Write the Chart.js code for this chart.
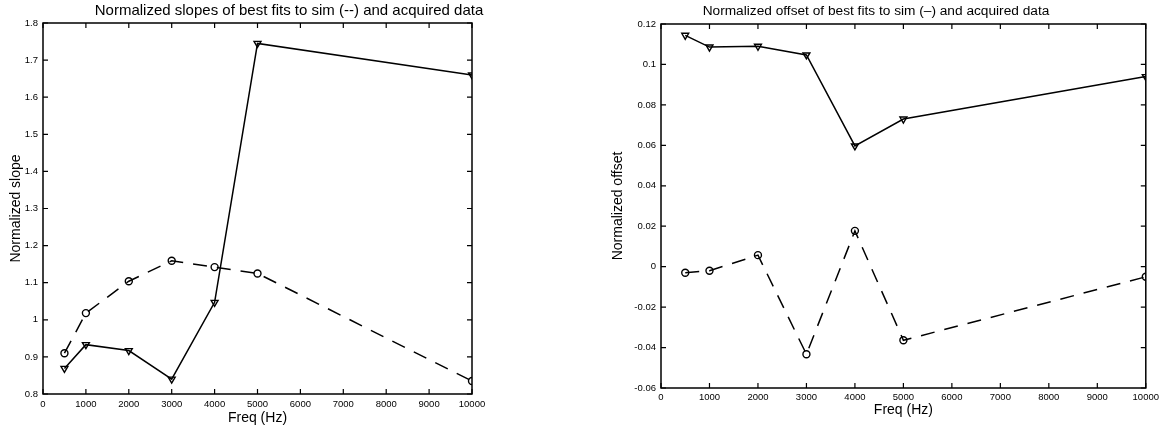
<!DOCTYPE html>
<html>
<head>
<meta charset="utf-8">
<script src="https://cdn.jsdelivr.net/npm/chart.js@4.4.1/dist/chart.umd.min.js"></script>
<style>
  html, body { margin: 0; padding: 0; background: #fff; }
  #wrap { position: relative; width: 1163px; height: 435px; }
  canvas { position: absolute; top: 0; }
</style>
</head>
<body>
<div id="wrap">
  <canvas id="slopeChart" width="580" height="435" style="left:0"></canvas>
  <canvas id="offsetChart" width="583" height="435" style="left:580px"></canvas>
</div>
<script>
// data
const freqs = [500, 1000, 2000, 3000, 4000, 5000, 10000];

const slopeSim = [0.91, 1.018, 1.104, 1.159, 1.142, 1.125, 0.835];
const slopeAcq = [0.869, 0.933, 0.917, 0.84, 1.047, 1.745, 1.66];

const offsetSim = [-0.003, -0.002, 0.0057, -0.0433, 0.0177, -0.0364, -0.005];
const offsetAcq = [0.1144, 0.1086, 0.109, 0.1047, 0.0597, 0.073, 0.094];

const freqTicks = [0, 1000, 2000, 3000, 4000, 5000, 6000, 7000, 8000, 9000, 10000];
const slopeTicks = [0.8, 0.9, 1, 1.1, 1.2, 1.3, 1.4, 1.5, 1.6, 1.7, 1.8];
const offsetTicks = [-0.06, -0.04, -0.02, 0, 0.02, 0.04, 0.06, 0.08, 0.1, 0.12];

const FONT = '"Liberation Sans", Arial, Helvetica, sans-serif';

// box round the plot with inward ticks, plus the title (matlab look)
const boxPlugin = {
    id: 'matlabBox',
    afterDatasetsDraw(chart, args, opts) {
        const { ctx, chartArea: a, scales: { x, y } } = chart;
        ctx.save();
        ctx.strokeStyle = '#000';
        ctx.lineWidth = 1.5;
        ctx.strokeRect(a.left, a.top, a.right - a.left, a.bottom - a.top);
        ctx.lineWidth = 1.2;
        ctx.beginPath();
        x.ticks.forEach(t => {
            const px = x.getPixelForValue(t.value);
            ctx.moveTo(px, a.bottom); ctx.lineTo(px, a.bottom - 5);
            ctx.moveTo(px, a.top); ctx.lineTo(px, a.top + 5);
        });
        y.ticks.forEach(t => {
            const py = y.getPixelForValue(t.value);
            ctx.moveTo(a.left, py); ctx.lineTo(a.left + 5, py);
            ctx.moveTo(a.right, py); ctx.lineTo(a.right - 5, py);
        });
        ctx.stroke();
        ctx.fillStyle = '#000';
        ctx.font = opts.size + 'px ' + FONT;
        ctx.textAlign = 'center';
        ctx.textBaseline = 'middle';
        ctx.fillText(opts.text, opts.x, opts.y);
        ctx.restore();
    }
};

function pts(vals) {
    return freqs.map((f, i) => ({ x: f, y: vals[i] }));
}

function makeChart(id, cfg) {
    new Chart(document.getElementById(id), {
        type: 'line',
        data: {
            datasets: [{
                label: 'sim',
                data: pts(cfg.sim),
                borderColor: '#000',
                borderWidth: 1.5,
                borderDash: [14, 10],
                pointStyle: 'circle',
                pointRadius: 3.5,
                pointBorderWidth: 1.4,
                pointBorderColor: '#000',
                pointBackgroundColor: 'rgba(0,0,0,0)',
                tension: 0
            }, {
                label: 'acquired',
                data: pts(cfg.acq),
                borderColor: '#000',
                borderWidth: 1.5,
                pointStyle: 'triangle',
                pointRotation: 180,
                pointRadius: 4,
                pointBorderWidth: 1.4,
                pointBorderColor: '#000',
                pointBackgroundColor: 'rgba(0,0,0,0)',
                tension: 0
            }]
        },
        options: {
            responsive: false,
            animation: false,
            layout: { padding: { left: 0, right: cfg.padRight, top: cfg.padTop, bottom: 0 } },
            plugins: {
                legend: { display: false },
                tooltip: { enabled: false },
                matlabBox: { text: cfg.title, x: cfg.titleX, y: 11, size: cfg.titleSize }
            },
            scales: {
                x: {
                    type: 'linear',
                    min: 0, max: 10000,
                    afterBuildTicks: s => { s.ticks = freqTicks.map(v => ({ value: v })); },
                    afterFit: s => { s.height = cfg.xHeight; },
                    grid: { display: false, drawTicks: false, tickLength: 0 },
                    border: { display: false },
                    ticks: {
                        color: '#000', font: { family: FONT, size: 9.5 },
                        padding: cfg.xTickPad, maxRotation: 0, autoSkip: false,
                        callback: v => String(v)
                    },
                    title: {
                        display: true, text: 'Freq (Hz)', color: '#000',
                        font: { family: FONT, size: 14 },
                        padding: { top: 0, bottom: cfg.xTitlePad }
                    }
                },
                y: {
                    type: 'linear',
                    min: cfg.yTicks[0], max: cfg.yTicks[cfg.yTicks.length - 1],
                    afterBuildTicks: s => { s.ticks = cfg.yTicks.map(v => ({ value: v })); },
                    afterFit: s => { s.width = cfg.yWidth; },
                    grid: { display: false, drawTicks: false, tickLength: 0 },
                    border: { display: false },
                    ticks: {
                        color: '#000', font: { family: FONT, size: 9.5 },
                        padding: 5, autoSkip: false,
                        callback: v => String(+v.toFixed(3))
                    },
                    title: {
                        display: true, text: cfg.yTitle, color: '#000',
                        font: { family: FONT, size: 14 },
                        padding: { top: cfg.yTitlePad, bottom: 0 }
                    }
                }
            }
        },
        plugins: [boxPlugin]
    });
}

makeChart('slopeChart', {
    sim: slopeSim, acq: slopeAcq, yTicks: slopeTicks,
    title: 'Normalized slopes of best fits to sim (--) and acquired data',
    titleX: 289, titleSize: 15,
    yTitle: 'Normalized slope',
    padRight: 108, padTop: 23, yWidth: 43, xHeight: 41,
    xTickPad: 5, xTitlePad: 8, yTitlePad: 8
});

makeChart('offsetChart', {
    sim: offsetSim, acq: offsetAcq, yTicks: offsetTicks,
    title: 'Normalized offset of best fits to sim (\u2013) and acquired data',
    titleX: 296, titleSize: 13.7,
    yTitle: 'Normalized offset',
    padRight: 17, padTop: 24, yWidth: 81, xHeight: 47,
    xTickPad: 4, xTitlePad: 16, yTitlePad: 30
});
</script>
</body>
</html>
